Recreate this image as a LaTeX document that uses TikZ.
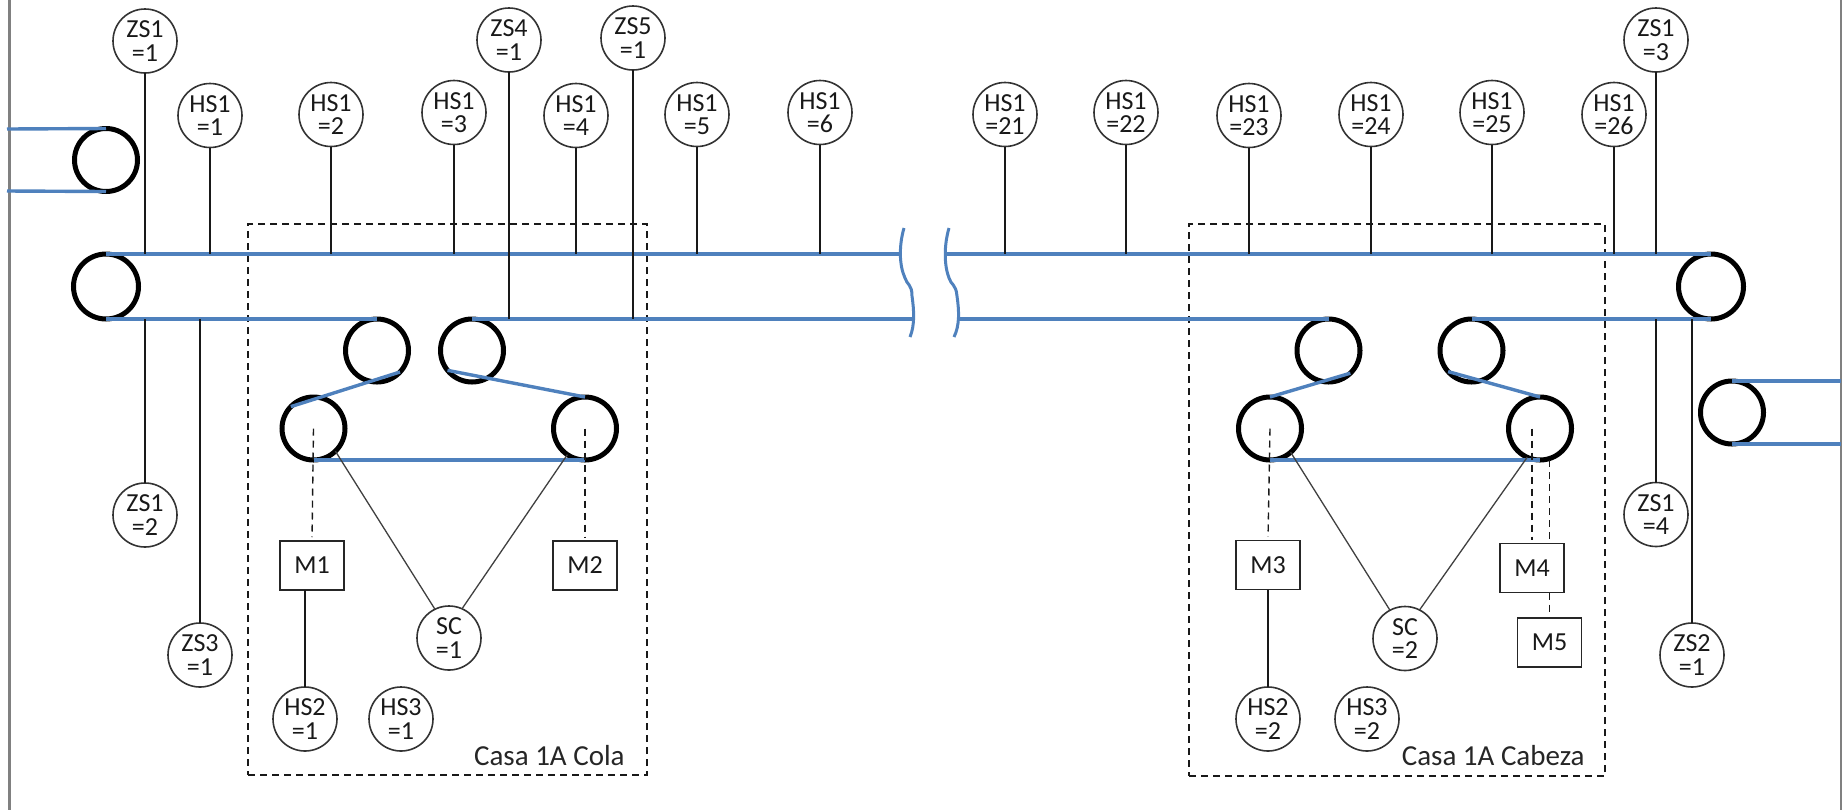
\documentclass[tikz,border=0pt]{standalone}
\usepackage{fontspec}
\setmainfont{Carlito}
\usetikzlibrary{calc}
\definecolor{beltblue}{HTML}{4F81BD}
\definecolor{framegray}{HTML}{808080}

\begin{document}
\begin{tikzpicture}[
    x=0.5pt, y=-0.5pt,
    font=\fontsize{13}{11.7}\selectfont,
    sensor/.style={draw, black!80, text=black!90, circle, line width=0.8pt, inner sep=0pt,
                   outer sep=0pt, minimum size=32pt, align=center},
    motor/.style={draw, black!85, text=black!90, line width=0.8pt, inner sep=0pt, outer sep=0pt,
                  minimum width=32pt, minimum height=24.5pt},
    pulley/.style={draw, black, circle, line width=2.5pt, inner sep=0pt, outer sep=0pt,
                   minimum size=31.5pt},
    bigpulley/.style={pulley, minimum size=32.5pt},
    belt/.style={beltblue, line width=1.7pt},
    wire/.style={black!90, line width=0.8pt},
    signal/.style={black!75, line width=0.65pt},
    link/.style={black!90, line width=0.7pt, dash pattern=on 3.5pt off 2.5pt, shorten >=2pt},
    zone/.style={draw, black!90, line width=0.7pt, dash pattern=on 3.5pt off 2.5pt},
    breakline/.style={beltblue, line width=1.5pt},
    title/.style={text=black!85, anchor=base east, inner sep=0pt, font=\fontsize{14.5}{14.5}\selectfont},
  ]
  \useasboundingbox (0,0) rectangle (1843,810);

  % sheet edges
  \coordinate (edgeat) at (9.5,0);
  \coordinate (edgeab) at (9.5,810);
  \coordinate (edgebt) at (1841,0);
  \coordinate (edgebb) at (1841,810);
  \draw[framegray, line width=1.2pt] (edgeat) -- (edgeab);
  \draw[framegray, line width=1.2pt] (edgebt) -- (edgebb);

  % belt levels and cuts
  \coordinate (beltup) at (0,254);
  \coordinate (beltlo) at (0,319);
  \coordinate (cutau) at (901,254);
  \coordinate (cutal) at (913,319);
  \coordinate (cutbu) at (945,254);
  \coordinate (cutbl) at (958,319);
  \coordinate (inau) at (7,129);
  \coordinate (inal) at (7,191);
  \coordinate (inbu) at (1841,381);
  \coordinate (inbl) at (1841,444);

  % zones
  \node[zone, minimum width=199.5pt, minimum height=275.5pt, inner sep=0pt, outer sep=0pt] (casaa) at (447.5,499.5) {};
  \node[zone, minimum width=208pt, minimum height=276pt, inner sep=0pt, outer sep=0pt] (casab) at (1397,500) {};
  \node[title] (casaal) at (625,765) {Casa 1A Cola};
  \node[title] (casabl) at (1585,765) {Casa 1A Cabeza};

  % pulleys, main span
  \node[pulley] (pin) at (106,160) {};
  \node[bigpulley] (pleft) at (106,286.5) {};
  \node[bigpulley] (pright) at (1711,286.5) {};
  \node[pulley] (pout) at (1732,412.5) {};

  % pulleys, tail house
  \node[pulley] (pa) at (377,350.5) {};
  \node[pulley] (pb) at (472,350.5) {};
  \node[pulley] (pc) at (313.5,428.5) {};
  \node[pulley] (pd) at (585,428.5) {};

  % pulleys, head house
  \node[pulley] (pe) at (1328.5,350.5) {};
  \node[pulley] (pf) at (1471.5,350.5) {};
  \node[pulley] (pg) at (1270,428.5) {};
  \node[pulley] (ph) at (1540,428.5) {};

  % belt
  \draw[belt] (inau) -- (pin.north);
  \draw[belt] (inal) -- (pin.south);
  \draw[belt] (pleft.north) -- (cutau);
  \draw[belt] (pleft.south) -- (pa.north);
  \draw[belt] (pb.north) -- (cutal);
  \draw[belt] (cutbu) -- (pright.north);
  \draw[belt] (cutbl) -- (pe.north);
  \draw[belt] (pf.north) -- (pright.south);
  \draw[belt] (pout.north) -- (inbu);
  \draw[belt] (pout.south) -- (inbl);
  \draw[belt] (pa.-43) -- (pc.136);
  \draw[belt] (pb.219) -- (pd.north);
  \draw[belt] (pc.south) -- (pd.south);
  \draw[belt] (pe.-46) -- (pg.north);
  \draw[belt] (pf.222) -- (ph.north);
  \draw[belt] (pg.south) -- (ph.south);

  % cut marks
  \draw[breakline] (904,228) .. controls (899,245) and (899,265) .. (905,278)
    .. controls (907,285) and (912,284) .. (912,296) .. controls (914,310) and (915,325) .. (910,337);
  \draw[breakline] (949,228) .. controls (944,245) and (944,265) .. (949,278)
    .. controls (951,285) and (956,284) .. (957,296) .. controls (959,310) and (960,325) .. (954,337);

  % sensors above the belt
  \node[sensor] (zs11) at (145,41) {ZS1\\=1};
  \node[sensor] (zs41) at (509,40) {ZS4\\=1};
  \node[sensor] (zs51) at (633,38) {ZS5\\=1};
  \node[sensor] (zs13) at (1656,40) {ZS1\\=3};
  \node[sensor] (hs1) at (210,115.5) {HS1\\=1};
  \node[sensor] (hs2) at (331,114.5) {HS1\\=2};
  \node[sensor] (hs3) at (454,112.5) {HS1\\=3};
  \node[sensor] (hs4) at (576,115.5) {HS1\\=4};
  \node[sensor] (hs5) at (697,114.5) {HS1\\=5};
  \node[sensor] (hs6) at (820,112.5) {HS1\\=6};
  \node[sensor] (hs21) at (1005,114.5) {HS1\\=21};
  \node[sensor] (hs22) at (1126,112.5) {HS1\\=22};
  \node[sensor] (hs23) at (1249,115.5) {HS1\\=23};
  \node[sensor] (hs24) at (1371,114.5) {HS1\\=24};
  \node[sensor] (hs25) at (1492,112.5) {HS1\\=25};
  \node[sensor] (hs26) at (1614,114.5) {HS1\\=26};

  \draw[wire] (zs11.south) -- (zs11.south |- beltup);
  \draw[wire] (zs41.south) -- (zs41.south |- beltlo);
  \draw[wire] (zs51.south) -- (zs51.south |- beltlo);
  \draw[wire] (zs13.south) -- (zs13.south |- beltup);
  \draw[wire] (hs1.south) -- (hs1.south |- beltup);
  \draw[wire] (hs2.south) -- (hs2.south |- beltup);
  \draw[wire] (hs3.south) -- (hs3.south |- beltup);
  \draw[wire] (hs4.south) -- (hs4.south |- beltup);
  \draw[wire] (hs5.south) -- (hs5.south |- beltup);
  \draw[wire] (hs6.south) -- (hs6.south |- beltup);
  \draw[wire] (hs21.south) -- (hs21.south |- beltup);
  \draw[wire] (hs22.south) -- (hs22.south |- beltup);
  \draw[wire] (hs23.south) -- (hs23.south |- beltup);
  \draw[wire] (hs24.south) -- (hs24.south |- beltup);
  \draw[wire] (hs25.south) -- (hs25.south |- beltup);
  \draw[wire] (hs26.south) -- (hs26.south |- beltup);

  % sensors below the belt
  \node[sensor] (zs12) at (145,515) {ZS1\\=2};
  \node[sensor] (zs31) at (200,655) {ZS3\\=1};
  \node[sensor] (zs14) at (1656,514.5) {ZS1\\=4};
  \node[sensor] (zs21) at (1692,655) {ZS2\\=1};
  \draw[wire] (zs12.north) -- (zs12.north |- beltlo);
  \draw[wire] (zs31.north) -- (zs31.north |- beltlo);
  \draw[wire] (zs14.north) -- (zs14.north |- beltlo);
  \draw[wire] (zs21.north) -- (zs21.north |- beltlo);

  % tail house
  \node[motor] (ma) at (312,565.5) {M1};
  \node[motor] (mb) at (585,565.5) {M2};
  \node[sensor] (sca) at (449,638) {SC\\=1};
  \node[sensor] (hsba) at (305,719) {HS2\\=1};
  \node[sensor] (hsca) at (401,719) {HS3\\=1};
  \draw[link] (pc.center) -- (ma.north);
  \draw[link] (pd.center) -- (mb.north);
  \draw[wire] (hsba.north) -- (hsba.north |- ma.south);
  \draw[signal] (pc.-46) -- (sca.116);
  \draw[signal] (pd.-124) -- (sca.66);

  % head house
  \node[motor] (mc) at (1268,565) {M3};
  \node[motor] (md) at (1532,568) {M4};
  \node[motor] (me) at (1549.5,642.5) {M5};
  \node[sensor] (scb) at (1405,638.5) {SC\\=2};
  \node[sensor] (hsbb) at (1268,719) {HS2\\=2};
  \node[sensor] (hscb) at (1367,719) {HS3\\=2};
  \draw[link] (pg.center) -- (mc.north);
  \draw[link] (md.north |- ph.center) -- (md.north);
  \draw[link] (me.north |- ph.south) -- (me.north |- md.north);
  \draw[link] (me.north |- md.south) -- (me.north);
  \draw[wire] (hsbb.north) -- (hsbb.north |- mc.south);
  \draw[signal] (pg.-49) -- (scb.118);
  \draw[signal] (ph.-114) -- (scb.63);
\end{tikzpicture}
\end{document}
